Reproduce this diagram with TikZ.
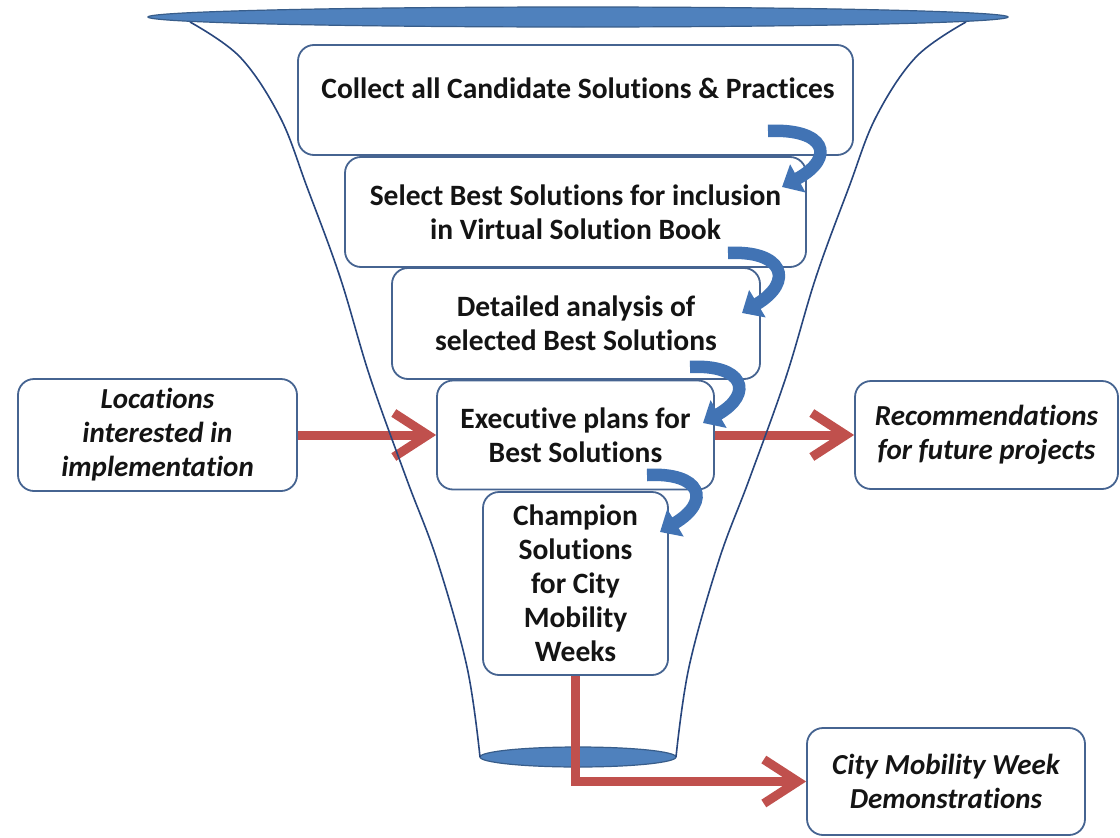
\documentclass[tikz,border=0pt]{standalone}
\usepackage{fontspec}
\setmainfont{Carlito}[Ligatures=NoCommon]
\usetikzlibrary{arrows.meta}
\definecolor{boxline}{RGB}{70,100,145}
\definecolor{funline}{RGB}{40,70,125}
\definecolor{ellfill}{RGB}{79,129,189}
\definecolor{elledge}{RGB}{56,93,138}
\definecolor{redarr}{RGB}{192,80,77}
\definecolor{bluearr}{RGB}{65,115,180}
\definecolor{txt}{RGB}{20,20,20}
\begin{document}
\begin{tikzpicture}[x=1pt,y=-1pt,
  box/.style={draw=boxline, line width=1.8pt, rounded corners=16pt, fill=white,
    inner sep=0pt, text=txt, align=center, font=\bfseries\fontsize{29.5}{34}\selectfont},
  ibox/.style={box, font=\bfseries\itshape\fontsize{29}{34}\selectfont},
  plain/.style={text=txt, inner sep=0pt, font=\bfseries\fontsize{29.5}{34}\selectfont},
  redarrow/.style={draw=redarr, line width=9pt, -{Straight Barb[length=34pt,width=44pt]}},
  curv/.style={draw=bluearr, line width=12.5pt, -{Triangle[length=18pt,width=31pt]}},
  funnel/.style={draw=funline, line width=1.6pt},
  disc/.style={draw=elledge, fill=ellfill, line width=1.2pt}
]
\useasboundingbox[fill=white] (0,0) rectangle (1120,838);

% boxes
\node[box, minimum width=555, minimum height=110] (collect) at (575.5,100) {};
\node[plain] (collecttxt) at (578,88) {Collect all Candidate Solutions \& Practices};
\node[box, minimum width=461, minimum height=110] (select) at (575.5,212)
  {Select Best Solutions for inclusion\\in Virtual Solution Book};
\node[box, minimum width=368, minimum height=111] (detail) at (576,323.5)
  {Detailed analysis of\\selected Best Solutions};
\node[box, minimum width=277, minimum height=109] (exec) at (575.5,435)
  {Executive plans for\\Best Solutions};
\node[box, minimum width=185, minimum height=183] (champ) at (575.5,583.5)
  {Champion\\Solutions\\for City\\Mobility\\Weeks};
\node[ibox, minimum width=279, minimum height=112] (loc) at (157.5,435)
  {Locations\\interested in\\implementation};
\node[ibox, minimum width=263, minimum height=108] (rec) at (986.5,435)
  {Recommendations\\for future projects};
\node[ibox, minimum width=278, minimum height=107] (city) at (946,781.5)
  {City Mobility Week\\Demonstrations};

% bottom disc
\draw[disc] (578,757) ellipse [x radius=98, y radius=10];

% red arrows
\draw[redarrow] (loc.east) -- (exec.west);
\draw[redarrow] (exec.east) -- (rec.west);
\draw[redarrow] (champ.south) |- (city.west);

% funnel sides
\draw[funnel] plot[smooth, tension=0.6] coordinates {(190,22) (240,57) (280,117) (307,187) (340,277) (370,377) (407,480) (437,560) (467,667) (480,757)};
\draw[funnel] plot[smooth, tension=0.6] coordinates {(966,22) (916,57) (876,117) (849,187) (816,277) (786,377) (749,480) (719,560) (689,667) (676,757)};

% top disc
\draw[disc] (578,17) ellipse [x radius=430, y radius=10];

% blue curved arrows
\coordinate (t1) at (768,131); \coordinate (h1) at (782,187);
\coordinate (t2) at (728,253); \coordinate (h2) at (742,313);
\coordinate (t3) at (690,367); \coordinate (h3) at (703,423);
\coordinate (t4) at (647,475); \coordinate (h4) at (660,532);
\draw[curv] (t1) .. controls +(57,-3) and +(55,-30) .. (h1);
\draw[curv] (t2) .. controls +(55,-3) and +(53,-32) .. (h2);
\draw[curv] (t3) .. controls +(53,-3) and +(52,-30) .. (h3);
\draw[curv] (t4) .. controls +(54,-3) and +(52,-31) .. (h4);
\end{tikzpicture}
\end{document}
